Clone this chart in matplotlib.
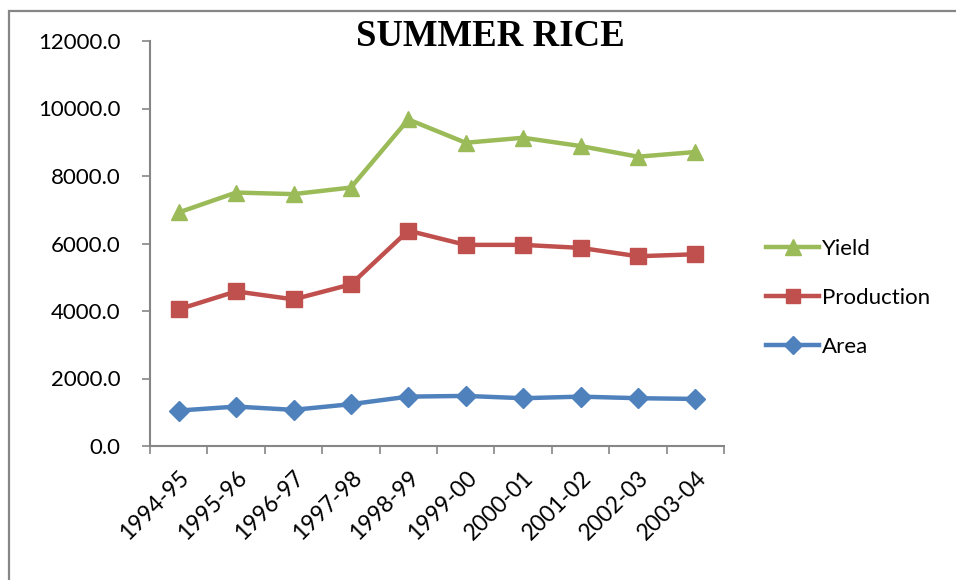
import matplotlib
matplotlib.use("Agg")
import matplotlib.pyplot as plt
from matplotlib.patches import Rectangle

categories = ["1994-95", "1995-96", "1996-97", "1997-98", "1998-99",
              "1999-00", "2000-01", "2001-02", "2002-03", "2003-04"]
yield_vals = [6920, 7510, 7463, 7658, 9676, 8985, 9133, 8888, 8572, 8711]
production_vals = [4050, 4581, 4345, 4788, 6381, 5959, 5959, 5870, 5622, 5681]
area_vals = [1050, 1168, 1071, 1239, 1463, 1484, 1416, 1463, 1416, 1395]
y_ticks = [0, 2000, 4000, 6000, 8000, 10000, 12000]

plt.rcParams['font.family'] = ['Lato', 'DejaVu Sans']

fig = plt.figure(figsize=(9.56, 5.8), dpi=100)
ax = fig.add_axes([150/956, 1-446/580, (724-150)/956, (446-41)/580])

x = list(range(len(categories)))
ax.plot(x, yield_vals, color="#9BBB59", lw=3.2, marker="^", ms=12, label="Yield")
ax.plot(x, production_vals, color="#C0504D", lw=3.2, marker="s", ms=11, label="Production")
ax.plot(x, area_vals, color="#4F81BD", lw=3.2, marker="D", ms=10, label="Area")

ax.set_xlim(-0.5, len(categories) - 0.5)
ax.set_ylim(0, 12000)
ax.set_yticks(y_ticks)
ax.set_yticklabels([f"{v:.1f}" for v in y_ticks], fontsize=16)
ax.set_xticks([i - 0.5 for i in range(len(categories) + 1)])
ax.set_xticklabels([])
ax.set_xticks(x, minor=True)
ax.set_xticklabels(categories, minor=True, rotation=45, ha="right",
                   rotation_mode="anchor", fontsize=16.5)
ax.tick_params(axis="x", which="minor", length=0, pad=15)
ax.tick_params(axis="x", which="major", length=6, color="#868686", width=1.2)
ax.tick_params(axis="y", length=6, color="#868686", width=1.2, pad=15)

for s in ["top", "right"]:
    ax.spines[s].set_visible(False)
for s in ["left", "bottom"]:
    ax.spines[s].set_color("#868686")
    ax.spines[s].set_linewidth(1.5)

h, l = ax.get_legend_handles_labels()
fig.legend(h, l, loc="center left", bbox_to_anchor=(746/956, 1-298/580),
           frameon=False, fontsize=16, handlelength=2.4, handletextpad=0.1,
           labelspacing=1.3, markerscale=0.95)

fig.text(490/956, 1-37/580, "SUMMER RICE", ha="center", va="center",
         fontsize=26.5, fontweight="bold", family="Liberation Serif")

fig.patches.append(Rectangle((9/956, -0.05), 1.1, 1-11/580+0.05,
                             transform=fig.transFigure, fill=False,
                             edgecolor="#868686", lw=1.6))

fig.savefig("out.png", dpi=100)
